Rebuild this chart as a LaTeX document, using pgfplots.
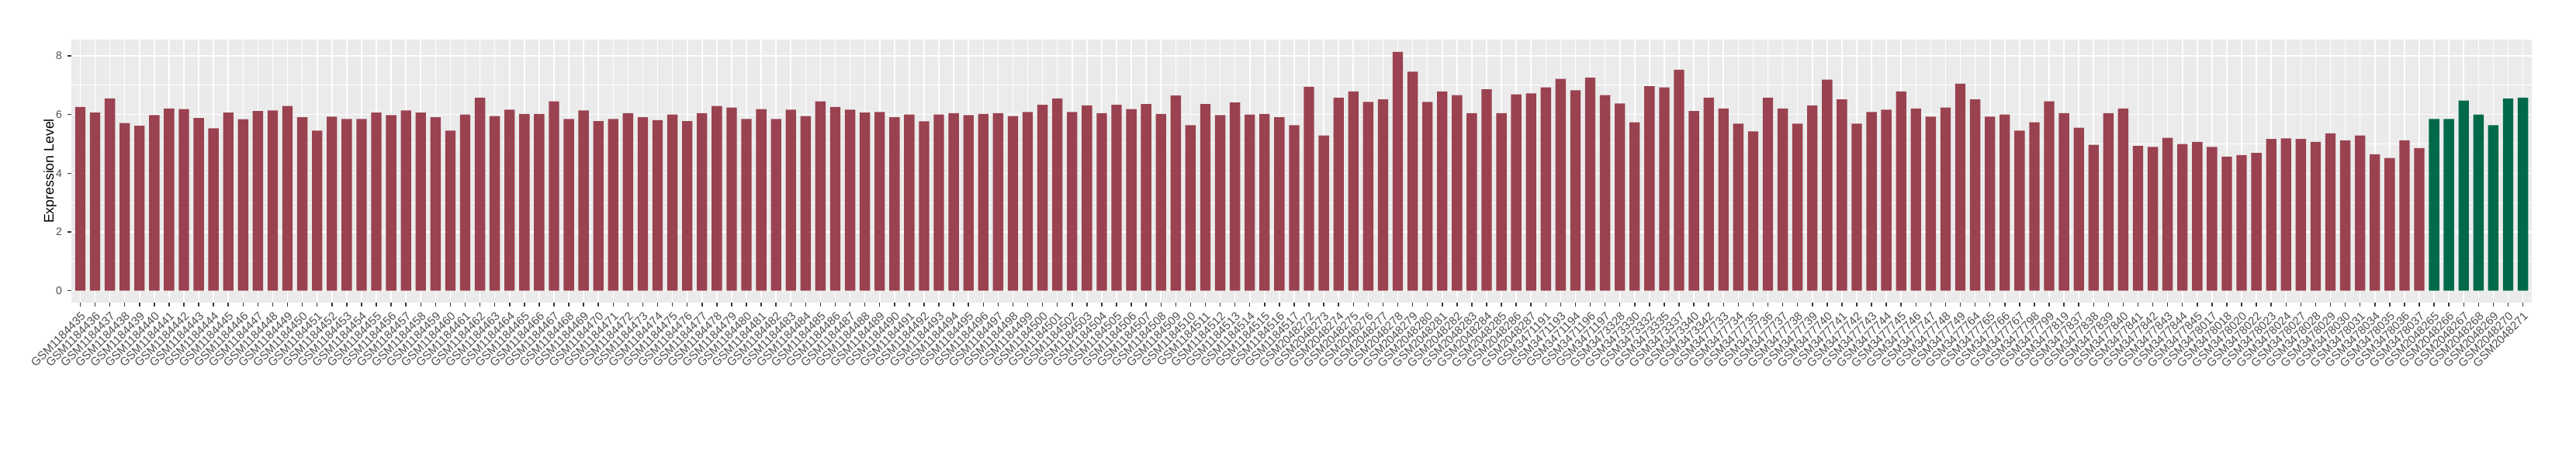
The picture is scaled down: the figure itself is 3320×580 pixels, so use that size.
\documentclass[border=0pt]{standalone}
\usepackage{pgfplots}
\pgfplotsset{compat=1.18}
\usepackage{pgfplotstable}
\usepackage{fontspec}
\setmainfont{Liberation Sans}
\definecolor{barred}{HTML}{9A4250}
\definecolor{bargreen}{HTML}{00694A}
\definecolor{panelbg}{HTML}{EBEBEB}
\definecolor{ticklab}{HTML}{4D4D4D}
\definecolor{tickmark}{HTML}{333333}

\pgfplotstableread{
x y
0 6.26
1 6.07
2 6.55
3 5.71
4 5.62
5 5.98
6 6.21
7 6.19
8 5.88
9 5.53
10 6.07
11 5.84
12 6.12
13 6.14
14 6.29
15 5.91
16 5.45
17 5.93
18 5.85
19 5.85
20 6.07
21 5.98
22 6.14
23 6.07
24 5.91
25 5.45
26 6.00
27 6.58
28 5.95
29 6.17
30 6.02
31 6.02
32 6.45
33 5.85
34 6.14
35 5.78
36 5.85
37 6.05
38 5.91
39 5.81
40 6.00
41 5.78
42 6.05
43 6.29
44 6.24
45 5.85
46 6.19
47 5.85
48 6.17
49 5.95
50 6.45
51 6.26
52 6.17
53 6.07
54 6.09
55 5.91
56 6.00
57 5.77
58 6.00
59 6.05
60 5.98
61 6.02
62 6.05
63 5.95
64 6.09
65 6.33
66 6.55
67 6.09
68 6.31
69 6.05
70 6.33
71 6.19
72 6.36
73 6.02
74 6.65
75 5.64
76 6.36
77 5.98
78 6.41
79 6.00
80 6.02
81 5.91
82 5.64
83 6.95
84 5.29
85 6.58
86 6.79
87 6.43
88 6.52
89 8.14
90 7.46
91 6.43
92 6.79
93 6.66
94 6.05
95 6.86
96 6.05
97 6.69
98 6.72
99 6.93
100 7.22
101 6.83
102 7.26
103 6.66
104 6.38
105 5.74
106 6.97
107 6.93
108 7.53
109 6.12
110 6.58
111 6.21
112 5.69
113 5.43
114 6.58
115 6.21
116 5.69
117 6.31
118 7.19
119 6.52
120 5.69
121 6.09
122 6.17
123 6.79
124 6.21
125 5.93
126 6.24
127 7.05
128 6.52
129 5.93
130 6.00
131 5.45
132 5.74
133 6.45
134 6.05
135 5.55
136 4.97
137 6.05
138 6.21
139 4.93
140 4.90
141 5.21
142 5.00
143 5.07
144 4.90
145 4.57
146 4.62
147 4.69
148 5.17
149 5.19
150 5.17
151 5.07
152 5.36
153 5.12
154 5.29
155 4.65
156 4.52
157 5.12
158 4.86
}\reddata

\pgfplotstableread{
x y
159 5.85
160 5.85
161 6.48
162 6.00
163 5.64
164 6.55
165 6.58
}\greendata

\begin{document}
\begin{tikzpicture}
\path[use as bounding box] (0,0) rectangle (3320bp,580bp);
\begin{axis}[
  at={(92bp,190bp)}, anchor=south west,
  scale only axis,
  width=3171bp, height=339bp,
  xmin=-0.6, xmax=165.6,
  ymin=-0.407, ymax=8.557,
  axis background/.style={fill=panelbg},
  axis line style={draw=none},
  ybar, bar width=0.7, bar shift=0pt,
  xtick={0,...,165},
  xticklabels={GSM1184435,GSM1184436,GSM1184437,GSM1184438,GSM1184439,GSM1184440,GSM1184441,GSM1184442,GSM1184443,GSM1184444,GSM1184445,GSM1184446,GSM1184447,GSM1184448,GSM1184449,GSM1184450,GSM1184451,GSM1184452,GSM1184453,GSM1184454,GSM1184455,GSM1184456,GSM1184457,GSM1184458,GSM1184459,GSM1184460,GSM1184461,GSM1184462,GSM1184463,GSM1184464,GSM1184465,GSM1184466,GSM1184467,GSM1184468,GSM1184469,GSM1184470,GSM1184471,GSM1184472,GSM1184473,GSM1184474,GSM1184475,GSM1184476,GSM1184477,GSM1184478,GSM1184479,GSM1184480,GSM1184481,GSM1184482,GSM1184483,GSM1184484,GSM1184485,GSM1184486,GSM1184487,GSM1184488,GSM1184489,GSM1184490,GSM1184491,GSM1184492,GSM1184493,GSM1184494,GSM1184495,GSM1184496,GSM1184497,GSM1184498,GSM1184499,GSM1184500,GSM1184501,GSM1184502,GSM1184503,GSM1184504,GSM1184505,GSM1184506,GSM1184507,GSM1184508,GSM1184509,GSM1184510,GSM1184511,GSM1184512,GSM1184513,GSM1184514,GSM1184515,GSM1184516,GSM1184517,GSM2048272,GSM2048273,GSM2048274,GSM2048275,GSM2048276,GSM2048277,GSM2048278,GSM2048279,GSM2048280,GSM2048281,GSM2048282,GSM2048283,GSM2048284,GSM2048285,GSM2048286,GSM2048287,GSM3471191,GSM3471193,GSM3471194,GSM3471196,GSM3471197,GSM3473328,GSM3473330,GSM3473332,GSM3473335,GSM3473337,GSM3473340,GSM3473342,GSM3477733,GSM3477734,GSM3477735,GSM3477736,GSM3477737,GSM3477738,GSM3477739,GSM3477740,GSM3477741,GSM3477742,GSM3477743,GSM3477744,GSM3477745,GSM3477746,GSM3477747,GSM3477748,GSM3477749,GSM3477764,GSM3477765,GSM3477766,GSM3477767,GSM3477798,GSM3477799,GSM3477819,GSM3477837,GSM3477838,GSM3477839,GSM3477840,GSM3477841,GSM3477842,GSM3477843,GSM3477844,GSM3477845,GSM3478017,GSM3478018,GSM3478020,GSM3478022,GSM3478023,GSM3478024,GSM3478027,GSM3478028,GSM3478029,GSM3478030,GSM3478031,GSM3478034,GSM3478035,GSM3478036,GSM3478037,GSM2048265,GSM2048266,GSM2048267,GSM2048268,GSM2048269,GSM2048270,GSM2048271},
  ytick={0,2,4,6,8},
  minor ytick={1,3,5,7},
  xtick pos=left, ytick pos=left,
  tick align=outside,
  major tick length=5bp,
  minor tick length=0pt,
  tick style={draw=tickmark, line width=1.5bp},
  grid=both,
  xminorgrids=false,
  major grid style={draw=white, line width=1.6bp},
  minor grid style={draw=white, line width=0.8bp},
  /pgf/number format/assume math mode=true,
  xticklabel style={rotate=45, anchor=north east, inner sep=0pt, text=ticklab, font=\fontsize{15bp}{15bp}\selectfont},
  yticklabel style={anchor=east, inner sep=0pt, text=ticklab, font=\fontsize{14bp}{14bp}\selectfont},
  xticklabel shift=6bp,
  yticklabel shift=7bp,
  ylabel={Expression Level},
  ylabel style={at={([xshift=-19bp]axis description cs:0,0.5)}, anchor=south, inner sep=0pt, font=\fontsize{17.7bp}{17.7bp}\selectfont},
]
\addplot[fill=barred, draw=none] table[x=x, y=y] {\reddata};
\addplot[fill=bargreen, draw=none] table[x=x, y=y] {\greendata};
\end{axis}
\end{tikzpicture}
\end{document}
